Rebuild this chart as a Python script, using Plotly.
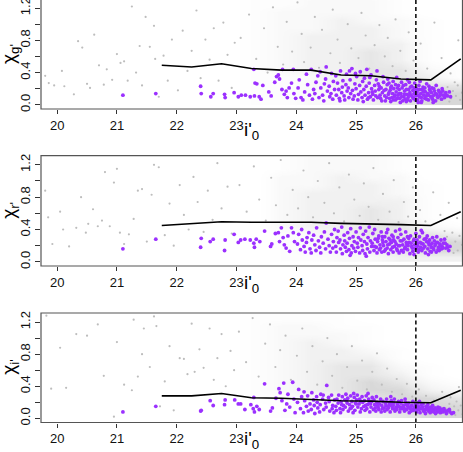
import plotly.graph_objects as go

# ---------------------------------------------------------------------------
# data
# ---------------------------------------------------------------------------

bin_x = [21.75, 22.25, 22.75, 23.25, 23.75, 24.25, 24.75, 25.25, 25.75, 26.25, 26.75]
line_g = [0.49, 0.47, 0.51, 0.45, 0.43, 0.43, 0.37, 0.36, 0.32, 0.31, 0.57]
line_r = [0.45, 0.475, 0.495, 0.49, 0.49, 0.49, 0.475, 0.47, 0.46, 0.45, 0.62]
line_i = [0.28, 0.28, 0.31, 0.257, 0.25, 0.235, 0.22, 0.215, 0.20, 0.195, 0.35]

x_ticks = [20, 21, 22, 23, 24, 25, 26]
cut_x = 26.0

# shading of the dense grey cloud (relative density, 0-5), rows = dens_y, cols = dens_x
dens_x = [22.75, 23.25, 23.75, 24.25, 24.75, 25.25, 25.75, 26.25, 26.75]
dens_y = [0.05, 0.15, 0.25, 0.35, 0.45, 0.55, 0.65, 0.75, 0.85, 0.95, 1.05, 1.15, 1.25]
dens_g = [
    [0, 1, 1, 2, 2, 3, 4, 5, 5],
    [0, 1, 1, 2, 2, 3, 4, 5, 5],
    [0, 1, 1, 2, 3, 3, 4, 4, 4],
    [0, 1, 1, 2, 3, 4, 4, 3, 1],
    [0, 1, 2, 3, 3, 4, 4, 2, 1],
    [0, 1, 2, 3, 3, 4, 3, 1, 0],
    [0, 1, 2, 3, 3, 4, 3, 1, 0],
    [0, 1, 2, 3, 3, 3, 3, 1, 0],
    [0, 1, 2, 3, 3, 3, 2, 1, 0],
    [0, 1, 2, 2, 3, 3, 2, 1, 0],
    [0, 1, 2, 2, 3, 2, 2, 1, 0],
    [0, 1, 2, 2, 2, 2, 1, 0, 0],
    [0, 1, 1, 2, 2, 2, 1, 0, 0],
]
dens_r = [
    [0, 0, 1, 1, 2, 2, 3, 3, 3],
    [0, 0, 1, 2, 2, 3, 4, 5, 5],
    [0, 0, 1, 2, 3, 3, 4, 5, 5],
    [0, 0, 1, 2, 3, 4, 4, 4, 3],
    [0, 0, 2, 3, 3, 4, 4, 2, 1],
    [0, 0, 2, 3, 3, 4, 3, 1, 0],
    [0, 0, 2, 3, 3, 4, 3, 1, 0],
    [0, 0, 2, 3, 3, 3, 3, 1, 0],
    [0, 0, 2, 3, 3, 3, 2, 1, 0],
    [0, 0, 2, 2, 3, 3, 2, 1, 0],
    [0, 0, 2, 2, 3, 2, 2, 0, 0],
    [0, 0, 1, 2, 2, 2, 1, 0, 0],
    [0, 0, 1, 2, 2, 2, 1, 0, 0],
]
dens_i = [
    [0, 0, 1, 1, 2, 3, 4, 5, 5],
    [0, 0, 1, 2, 2, 3, 5, 5, 5],
    [0, 1, 1, 2, 3, 4, 5, 5, 4],
    [0, 1, 2, 3, 4, 5, 5, 3, 2],
    [0, 1, 2, 3, 4, 5, 4, 2, 1],
    [0, 1, 2, 3, 4, 4, 3, 1, 0],
    [0, 1, 2, 3, 4, 4, 2, 1, 0],
    [0, 1, 2, 3, 3, 3, 1, 0, 0],
    [0, 1, 2, 3, 3, 2, 1, 0, 0],
    [0, 1, 2, 3, 2, 1, 0, 0, 0],
    [0, 1, 2, 2, 2, 1, 0, 0, 0],
    [0, 1, 2, 2, 1, 1, 0, 0, 0],
    [0, 1, 1, 1, 1, 0, 0, 0, 0],
]

gray_g = [
    (19.80, .36), (19.86, .27), (19.95, .24), (20.08, .42), (20.12, .23), (20.28, .13), (20.35, .79),
    (20.42, .71), (20.50, .26), (20.55, .21), (20.62, .87), (20.70, .49), (20.78, .25), (20.83, .44),
    (20.92, .31), (21.00, .63), (21.06, .52), (21.12, .54), (21.18, .30), (21.25, 1.22), (21.32, .40),
    (21.38, .73), (21.42, .24), (21.48, 1.09), (21.55, .72), (21.62, .98), (21.64, .57), (21.70, .10),
    (21.78, .61), (21.85, .30), (21.92, .81), (22.02, .18), (22.10, .92), (22.18, .42), (22.25, .67),
    (22.33, 1.17), (22.40, .33), (22.48, .81), (22.55, .56), (22.62, .95), (22.70, .30), (22.78, 1.02),
    (22.85, .62), (22.92, .21), (22.97, .77),
    (23.07, .83), (23.21, 1.12), (23.33, .57), (23.46, .95), (23.52, .40), (23.61, 1.21), (23.69, .72),
    (23.78, .50), (23.84, 1.03), (23.93, .66), (24.02, 1.27), (24.09, .88), (24.13, .53), (24.24, .71),
    (24.31, 1.09), (24.38, .46), (24.43, .93), (24.57, .64), (24.61, 1.18), (24.69, .81), (24.73, .52),
    (24.86, 1.00), (24.92, .70), (25.04, .58), (25.09, 1.14), (25.16, .86), (25.22, .45), (25.31, .74),
    (25.39, .99), (25.48, .60), (25.53, .83), (25.61, .48), (25.66, 1.06), (25.74, .67), (25.83, .42),
    (25.88, .90), (25.96, .55), (26.08, .76), (26.19, .45), (26.31, 1.02), (26.43, .58), (26.58, .39),
    (26.71, .80),
    (26.48, .14), (26.53, .22), (26.59, .08), (26.62, .17), (26.67, .11), (26.70, .24), (26.74, .06),
    (26.77, .15), (26.65, .28), (26.56, .04),
]

purple_g = [
    (21.10, .12), (21.65, .14), (22.40, .23), (22.41, .14), (22.57, .10), (22.61, .14), (22.80, .13),
    (22.81, .09), (22.96, .15), (23.03, .10), (23.08, .12), (23.15, .12), (23.23, .10), (23.29, .44),
    (23.31, .27), (23.30, .11), (23.34, .26), (23.44, .24), (23.38, .10), (23.41, .07), (23.54, .16),
    (23.58, .11), (23.64, .28), (23.67, .35), (23.70, .37), (23.72, .32), (23.77, .44), (23.76, .19),
    (23.80, .13), (23.83, .17), (23.85, .09), (23.88, .21), (23.92, .27), (23.95, .44), (23.96, .14),
    (23.99, .08),
    (24.03, .21), (24.08, .09), (24.05, .31), (24.14, .16), (24.11, .06), (24.19, .25), (24.22, .12),
    (24.25, .44), (24.29, .19), (24.27, .07), (24.33, .28), (24.31, .14), (24.38, .09), (24.36, .36),
    (24.41, .21), (24.44, .12), (24.47, .26), (24.46, .05), (24.50, .47), (24.52, .17), (24.49, .32),
    (24.56, .10), (24.55, .23), (24.59, .39), (24.58, .14), (24.62, .29), (24.61, .07), (24.64, .19),
    (24.17, .38), (24.40, .41),
    (24.67, .12), (24.69, .27), (24.66, .36), (24.72, .08), (24.71, .19), (24.74, .42), (24.76, .15),
    (24.78, .30), (24.77, .22), (24.81, .06), (24.80, .11), (24.83, .25), (24.85, .17), (24.84, .38),
    (24.88, .09), (24.87, .21), (24.90, .31), (24.91, .14), (24.93, .45), (24.95, .07), (24.94, .18),
    (24.98, .26), (24.97, .11), (25.00, .20), (25.01, .35), (25.04, .13), (25.03, .06), (25.06, .24),
    (25.08, .16), (25.07, .41), (25.10, .09), (25.11, .29), (25.13, .19), (25.15, .12), (25.14, .33),
    (25.17, .23), (25.19, .07), (25.18, .44), (25.21, .15), (25.22, .27), (25.24, .10), (25.26, .20),
    (25.25, .37), (25.28, .13), (25.29, .06), (25.31, .24), (25.32, .17), (25.34, .31), (25.36, .09),
    (25.35, .42), (25.38, .19), (25.37, .26), (25.40, .12), (24.99, .39), (24.73, .05), (25.12, .04),
    (25.23, .34), (24.89, .42),
    (25.42, .21), (25.41, .08), (25.44, .15), (25.46, .28), (25.45, .35), (25.48, .11), (25.50, .19),
    (25.49, .05), (25.52, .25), (25.54, .13), (25.53, .32), (25.56, .08), (25.57, .18), (25.59, .23),
    (25.58, .04), (25.61, .14), (25.62, .29), (25.64, .10), (25.63, .20), (25.66, .06), (25.67, .16),
    (25.68, .34), (25.70, .12), (25.71, .24), (25.73, .08), (25.72, .19), (25.75, .14), (25.76, .28),
    (25.78, .05), (25.77, .21), (25.80, .10), (25.81, .17), (25.83, .25), (25.82, .07), (25.85, .13),
    (25.86, .31), (25.88, .19), (25.87, .09), (25.90, .15), (25.91, .05), (25.93, .23), (25.92, .12),
    (25.95, .18), (25.96, .08), (25.98, .27), (25.97, .14), (26.00, .11), (26.01, .20), (26.03, .06),
    (26.02, .16), (26.05, .24), (26.06, .10), (26.08, .14), (26.07, .29), (26.10, .05), (26.11, .19),
    (26.13, .12), (26.12, .22), (26.15, .08), (26.16, .16), (26.18, .26), (26.17, .11), (26.20, .14),
    (26.21, .06), (26.23, .19), (26.22, .23), (26.25, .10), (26.26, .15), (26.28, .07), (26.27, .21),
    (26.30, .12), (26.31, .17), (26.33, .05), (26.34, .24), (26.35, .13), (26.37, .09), (26.38, .18),
    (26.40, .11), (26.41, .15), (26.43, .07), (26.44, .20), (26.46, .12), (26.48, .09), (26.50, .15),
    (26.53, .11), (26.56, .16), (25.60, .09), (25.74, .03), (25.89, .28), (26.09, .03), (25.55, .27),
    (25.69, .21), (25.84, .04), (25.99, .06), (26.14, .17), (26.29, .03),
    (25.21, .09), (25.27, .16), (25.33, .11), (25.39, .23), (25.43, .05), (25.47, .18), (25.51, .09),
    (25.55, .15), (25.58, .21), (25.62, .06), (25.65, .12), (25.69, .08), (25.72, .14), (25.76, .10),
    (25.79, .24), (25.81, .13), (25.84, .19), (25.88, .12), (25.91, .22), (25.94, .10), (25.97, .21),
    (26.00, .16), (26.03, .12), (26.06, .19), (26.09, .09), (26.12, .16), (26.15, .21), (26.18, .07),
    (26.21, .12), (26.24, .17), (26.27, .09), (26.30, .20), (26.33, .14), (26.36, .10), (26.39, .16),
    (26.42, .13), (26.45, .17), (26.51, .12), (26.58, .10), (25.86, .06), (26.04, .03), (25.66, .25),
]

gray_r = [
    (19.80, .88), (19.85, .55), (19.92, .22), (20.05, .62), (20.10, .40), (20.20, .19), (20.32, .42),
    (20.40, .80), (20.48, .36), (20.52, .47), (20.60, .65), (20.68, .44), (20.75, .51), (20.80, 1.11),
    (20.88, .44), (20.95, .98), (21.00, 1.15), (21.05, .36), (21.12, .22), (21.20, .34), (21.28, .53),
    (21.35, .88), (21.42, .90), (21.50, .25), (21.58, .83), (21.62, 1.20), (21.70, 1.17), (21.80, .33),
    (21.88, .72), (21.95, .20), (22.05, .95), (22.12, .58), (22.20, .40), (22.28, 1.05), (22.35, .74),
    (22.45, .37), (22.52, .88), (22.60, .52), (22.68, 1.22), (22.75, .66), (22.85, .93), (22.92, .35),
    (23.05, .95), (23.17, .62), (23.29, 1.18), (23.38, .77), (23.49, .51), (23.58, 1.04), (23.66, .70),
    (23.74, 1.26), (23.85, .58), (23.94, .89), (24.03, .66), (24.12, 1.13), (24.20, .80), (24.28, .55),
    (24.36, 1.00), (24.47, .73), (24.55, 1.22), (24.63, .60), (24.72, .92), (24.80, .50), (24.88, 1.08),
    (24.97, .77), (25.06, .57), (25.13, .97), (25.21, .68), (25.29, 1.16), (25.37, .52), (25.45, .84),
    (25.56, .62), (25.63, 1.01), (25.71, .49), (25.80, .74), (25.87, .56), (25.95, .92), (26.07, .64),
    (26.16, .50), (26.29, .86), (26.41, .58), (26.55, .73), (26.69, .54),
    (26.52, .31), (26.58, .19), (26.61, .36), (26.66, .25), (26.70, .14), (26.73, .32), (26.77, .21),
    (26.63, .11), (26.48, .38),
]

purple_r = [
    (21.10, .16), (21.65, .28), (22.41, .29), (22.40, .18), (22.56, .25), (22.61, .28), (22.80, .14),
    (22.81, .27), (22.96, .34), (23.03, .24), (23.07, .27), (23.14, .28), (23.23, .27), (23.29, .23),
    (23.30, .18), (23.33, .28), (23.39, .25), (23.47, .38), (23.57, .19), (23.59, .22), (23.65, .35),
    (23.70, .36), (23.72, .25), (23.75, .42), (23.78, .30), (23.80, .21), (23.83, .17), (23.86, .32),
    (23.89, .13), (23.92, .42), (23.95, .36), (23.97, .25),
    (24.02, .22), (24.04, .34), (24.07, .15), (24.10, .27), (24.09, .40), (24.13, .19), (24.15, .12),
    (24.18, .30), (24.17, .24), (24.21, .36), (24.23, .16), (24.26, .27), (24.25, .11), (24.29, .33),
    (24.31, .21), (24.34, .42), (24.33, .14), (24.37, .26), (24.39, .18), (24.42, .31), (24.41, .11),
    (24.45, .23), (24.47, .37), (24.50, .48), (24.49, .16), (24.53, .28), (24.55, .20), (24.57, .12),
    (24.59, .34), (24.62, .25), (24.61, .17), (24.64, .40),
    (24.66, .19), (24.68, .30), (24.67, .12), (24.71, .24), (24.70, .38), (24.74, .16), (24.73, .27),
    (24.76, .43), (24.78, .21), (24.77, .10), (24.80, .33), (24.82, .18), (24.81, .26), (24.84, .13),
    (24.86, .36), (24.85, .23), (24.89, .29), (24.88, .15), (24.91, .41), (24.93, .20), (24.92, .11),
    (24.95, .31), (24.97, .25), (24.96, .17), (25.00, .37), (24.99, .13), (25.02, .23), (25.04, .30),
    (25.03, .18), (25.06, .11), (25.08, .27), (25.07, .42), (25.10, .20), (25.12, .34), (25.11, .14),
    (25.14, .25), (25.16, .38), (25.15, .10), (25.18, .22), (25.20, .30), (25.19, .16), (25.22, .43),
    (25.24, .26), (25.23, .12), (25.26, .19), (25.28, .35), (25.27, .23), (25.30, .14), (25.32, .28),
    (25.31, .40), (25.34, .18), (25.36, .25), (25.35, .11), (25.38, .32), (25.40, .21), (25.39, .15),
    (25.42, .37), (25.44, .27), (25.43, .12), (24.90, .08), (25.17, .07),
    (25.46, .20), (25.48, .31), (25.47, .13), (25.50, .25), (25.52, .17), (25.51, .36), (25.54, .10),
    (25.56, .22), (25.55, .29), (25.58, .15), (25.60, .33), (25.59, .24), (25.62, .12), (25.64, .19),
    (25.63, .27), (25.66, .38), (25.68, .16), (25.67, .22), (25.70, .30), (25.72, .11), (25.71, .20),
    (25.74, .26), (25.76, .14), (25.75, .34), (25.78, .21), (25.80, .28), (25.79, .12), (25.82, .18),
    (25.84, .24), (25.83, .37), (25.86, .15), (25.88, .29), (25.87, .20), (25.90, .10), (25.92, .23),
    (25.91, .32), (25.94, .17), (25.96, .26), (25.95, .13), (25.98, .21), (26.00, .35), (25.99, .16),
    (26.02, .27), (26.04, .12), (26.03, .20), (26.06, .31), (26.08, .18), (26.07, .24), (26.10, .14),
    (26.12, .22), (26.11, .36), (26.14, .28), (26.16, .11), (26.15, .19), (26.18, .25), (26.20, .16),
    (26.19, .32), (26.22, .21), (26.24, .13), (26.23, .27), (26.26, .18), (26.28, .30), (26.27, .23),
    (26.30, .15), (26.32, .20), (26.31, .26), (26.34, .12), (26.36, .24), (26.35, .31), (26.38, .18),
    (26.40, .22), (26.39, .14), (26.42, .27), (26.44, .19), (26.43, .16), (26.46, .23), (26.48, .28),
    (26.50, .17), (26.52, .21), (26.55, .14), (26.57, .19), (25.73, .40), (25.97, .09), (26.21, .09),
    (25.53, .40), (26.09, .39),
    (25.31, .19), (25.37, .29), (25.41, .17), (25.45, .24), (25.49, .15), (25.53, .21), (25.57, .27),
    (25.61, .18), (25.65, .25), (25.69, .14), (25.73, .20), (25.77, .26), (25.81, .16), (25.85, .21),
    (25.89, .24), (25.93, .19), (25.97, .28), (26.01, .18), (26.05, .15), (26.09, .23), (26.13, .17),
    (26.17, .29), (26.21, .24), (26.25, .21), (26.29, .17), (26.33, .22), (26.37, .15), (26.41, .20),
    (26.45, .17), (26.49, .23), (26.53, .18), (25.62, .31), (25.86, .31), (26.02, .23), (25.44, .31),
    (26.26, .12),
]

gray_i = [
    (19.82, 1.28), (19.90, .37), (20.05, .88), (20.15, .38), (20.32, 1.05), (20.50, 1.03), (20.68, 1.17),
    (20.78, .53), (20.95, .02), (21.00, .95), (21.12, .42), (21.25, .35), (21.28, 1.23), (21.35, .52),
    (21.42, .80), (21.45, 1.12), (21.55, .64), (21.62, 1.27), (21.66, 1.15), (21.72, .15), (21.80, .46),
    (21.88, .90), (21.95, .10), (22.05, .75), (22.12, .74), (22.18, .55), (22.25, 1.18), (22.30, .58),
    (22.38, .86), (22.45, .63), (22.55, 1.12), (22.62, .48), (22.68, .75), (22.75, 1.05), (22.82, .40),
    (22.90, .84), (22.96, .60),
    (23.04, 1.08), (23.16, .70), (23.27, 1.25), (23.37, .52), (23.48, .93), (23.56, 1.17), (23.65, .64),
    (23.73, .85), (23.82, 1.03), (23.91, .48), (24.01, .78), (24.10, 1.12), (24.18, .58), (24.27, .90),
    (24.35, .42), (24.44, .71), (24.52, 1.00), (24.60, .53), (24.68, .80), (24.77, .38), (24.85, .64),
    (24.93, .90), (25.02, .47), (25.10, .72), (25.18, .36), (25.27, .58), (25.35, .81), (25.43, .42),
    (25.52, .62), (25.60, .33), (25.68, .49), (25.77, .30), (25.85, .43), (25.94, .27), (26.05, .36),
    (26.17, .28), (26.30, .22), (26.44, .33), (26.58, .26), (26.72, .39),
    (26.50, .12), (26.56, .18), (26.60, .07), (26.64, .15), (26.68, .21), (26.71, .10), (26.75, .16),
    (26.78, .05), (26.66, .04),
]

purple_i = [
    (21.10, .08), (21.65, .15), (22.41, .10), (22.40, .09), (22.56, .22), (22.61, .16), (22.80, .17),
    (22.81, .23), (22.97, .23), (23.03, .18), (23.07, .18), (23.14, .11), (23.24, .17), (23.28, .12),
    (23.29, .26), (23.30, .08), (23.34, .15), (23.38, .11), (23.47, .43), (23.57, .09), (23.60, .13),
    (23.66, .25), (23.71, .37), (23.73, .32), (23.76, .22), (23.79, .44), (23.81, .10), (23.84, .18),
    (23.86, .30), (23.89, .14), (23.94, .45), (23.96, .24), (23.98, .07),
    (24.02, .20), (24.04, .36), (24.07, .12), (24.09, .27), (24.12, .07), (24.14, .22), (24.13, .33),
    (24.17, .15), (24.20, .09), (24.19, .28), (24.23, .18), (24.26, .32), (24.25, .11), (24.29, .23),
    (24.31, .06), (24.30, .16), (24.34, .27), (24.36, .13), (24.35, .20), (24.39, .08), (24.41, .30),
    (24.40, .17), (24.44, .24), (24.46, .11), (24.45, .29), (24.49, .19), (24.51, .41), (24.50, .14),
    (24.54, .26), (24.56, .09), (24.55, .21), (24.59, .29), (24.61, .16), (24.60, .12), (24.64, .23),
    (24.63, .07),
    (24.66, .15), (24.68, .24), (24.67, .10), (24.71, .29), (24.70, .19), (24.73, .12), (24.75, .21),
    (24.74, .07), (24.77, .27), (24.79, .16), (24.78, .11), (24.81, .23), (24.83, .30), (24.82, .14),
    (24.85, .19), (24.87, .09), (24.86, .25), (24.89, .17), (24.91, .28), (24.90, .12), (24.93, .21),
    (24.95, .07), (24.94, .15), (24.97, .26), (24.99, .19), (24.98, .10), (25.01, .23), (25.03, .14),
    (25.02, .29), (25.05, .18), (25.07, .08), (25.06, .24), (25.09, .12), (25.11, .20), (25.10, .27),
    (25.13, .15), (25.15, .10), (25.14, .22), (25.17, .28), (25.19, .17), (25.18, .12), (25.21, .24),
    (25.23, .08), (25.22, .19), (25.25, .14), (25.27, .26), (25.26, .21), (25.29, .11), (25.31, .17),
    (25.30, .23), (25.33, .09), (25.35, .20), (25.34, .27), (25.37, .14), (25.39, .18), (25.38, .11),
    (25.41, .24), (25.43, .16), (25.42, .08), (25.45, .21), (25.20, .31), (24.96, .31),
    (25.47, .13), (25.49, .19), (25.48, .09), (25.51, .24), (25.53, .15), (25.52, .11), (25.55, .20),
    (25.57, .08), (25.56, .17), (25.59, .22), (25.61, .12), (25.60, .15), (25.63, .19), (25.65, .09),
    (25.64, .24), (25.67, .14), (25.69, .18), (25.68, .11), (25.71, .21), (25.73, .08), (25.72, .15),
    (25.75, .19), (25.77, .12), (25.76, .22), (25.79, .16), (25.81, .09), (25.80, .13), (25.83, .20),
    (25.85, .11), (25.84, .17), (25.87, .14), (25.89, .07), (25.88, .19), (25.91, .12), (25.93, .16),
    (25.92, .09), (25.95, .21), (25.97, .13), (25.96, .10), (25.99, .17), (26.01, .08), (26.00, .14),
    (26.03, .19), (26.05, .11), (26.04, .15), (26.07, .07), (26.09, .17), (26.08, .12), (26.11, .14),
    (26.13, .09), (26.12, .18), (26.15, .11), (26.17, .15), (26.16, .06), (26.19, .13), (26.21, .09),
    (26.20, .17), (26.23, .11), (26.25, .14), (26.24, .07), (26.27, .12), (26.29, .09), (26.28, .16),
    (26.31, .11), (26.33, .06), (26.32, .13), (26.35, .10), (26.37, .14), (26.36, .08), (26.39, .11),
    (26.41, .07), (26.40, .13), (26.43, .10), (26.45, .08), (26.47, .12), (26.49, .09), (26.51, .06),
    (26.54, .10), (26.57, .08), (26.60, .06), (26.63, .07), (25.58, .27), (25.82, .24), (26.06, .21),
    (24.76, .17), (24.84, .22), (24.92, .13), (25.00, .18), (25.08, .21), (25.16, .16), (25.24, .18),
    (25.32, .13), (25.36, .16), (25.44, .12), (25.50, .16), (25.54, .13), (25.58, .18), (25.62, .16),
    (25.66, .12), (25.70, .15), (25.74, .12), (25.78, .14), (25.82, .11), (25.86, .16), (25.90, .14),
    (25.94, .11), (25.98, .13), (26.02, .11), (26.06, .13), (26.10, .12), (26.14, .09), (26.18, .11),
    (26.22, .13), (26.26, .10), (26.30, .08), (26.34, .11), (26.38, .10), (26.44, .11), (26.50, .09),
    (26.56, .11),
]

# ---------------------------------------------------------------------------
# layout in pixels of the 463x452 page
# ---------------------------------------------------------------------------

W, H = 463, 452
FONT = "Liberation Sans, Arial, Helvetica, sans-serif"
GRAY = "#bdbdbd"
PURPLE = "#9B30FF"
X_DOM = [41 / W, 462.5 / W]
X_RANGE = [19.73, 26.78]
Y_SPAN = 1.365          # data units shown in a full panel of 110 px

panels = [
    dict(top=-1, bot=109, gray=gray_g, dens=dens_g, purple=purple_g, line=line_g, sub="g'", xt=131),
    dict(top=155.7, bot=266, gray=gray_r, dens=dens_r, purple=purple_r, line=line_r, sub="r'", xt=284),
    dict(top=313, bot=422.5, gray=gray_i, dens=dens_i, purple=purple_i, line=line_i, sub="i'", xt=440),
]

fig = go.Figure()
layout = dict(
    width=W, height=H,
    margin=dict(l=0, r=0, t=0, b=0, autoexpand=False),
    paper_bgcolor="white", plot_bgcolor="white",
    showlegend=False,
    font=dict(family=FONT, size=13, color="#111111"),
)
shapes, annotations = [], []

for i, p in enumerate(panels, start=1):
    sfx = "" if i == 1 else str(i)
    xa, ya = "x" + sfx, "y" + sfx
    top = max(p["top"], 0)
    dom = [1 - p["bot"] / H, 1 - top / H]
    span = p["bot"] - p["top"]
    y0 = -0.052
    y1 = y0 + (p["bot"] - top) / span * Y_SPAN

    fig.add_trace(go.Heatmap(
        x=dens_x, y=dens_y, z=p["dens"], xaxis=xa, yaxis=ya,
        zmin=0, zmax=5, zsmooth="best", showscale=False,
        colorscale=[[0, "rgba(255,255,255,0)"], [1, "#d8d8d8"]],
        hoverinfo="skip",
    ))
    gx, gy = zip(*p["gray"])
    fig.add_trace(go.Scatter(
        x=gx, y=gy, xaxis=xa, yaxis=ya, mode="markers",
        marker=dict(color=GRAY, size=2.2, line=dict(width=0)),
        hoverinfo="skip",
    ))
    px_, py_ = zip(*p["purple"])
    fig.add_trace(go.Scatter(
        x=px_, y=py_, xaxis=xa, yaxis=ya, mode="markers",
        marker=dict(color=PURPLE, size=3.8, line=dict(width=0)),
        hoverinfo="skip",
    ))
    fig.add_trace(go.Scatter(
        x=bin_x, y=p["line"], xaxis=xa, yaxis=ya, mode="lines",
        line=dict(color="black", width=1.6),
        hoverinfo="skip",
    ))

    layout["xaxis" + sfx] = dict(
        domain=X_DOM, range=X_RANGE, anchor=ya, automargin=False,
        tickvals=x_ticks, ticktext=[str(t) for t in x_ticks],
        ticks="outside", ticklen=4, tickwidth=1, tickcolor="#333333",
        showgrid=False, zeroline=False, showline=False,
        tickfont=dict(size=13, family=FONT, color="#111111"),
    )
    layout["yaxis" + sfx] = dict(
        domain=dom, range=[y0, y1], anchor=xa, automargin=False,
        tickmode="linear", tick0=0, dtick=0.4, tickformat=".1f", tickangle=-90,
        ticklabeloverflow="allow",
        ticks="outside", ticklen=5, tickwidth=1, tickcolor="#333333",
        minor=dict(tick0=0, dtick=0.2, ticks="outside", ticklen=5,
                   tickwidth=1, tickcolor="#333333", showgrid=False),
        showgrid=False, zeroline=False, showline=False,
        tickfont=dict(size=13, family=FONT, color="#111111"),
    )

    shapes.append(dict(
        type="line", xref=xa, yref=ya + " domain",
        x0=cut_x, x1=cut_x, y0=0, y1=1,
        line=dict(color="black", width=1.5, dash="4px,3px"),
    ))
    shapes.append(dict(
        type="rect", xref="paper", yref="paper",
        x0=X_DOM[0], x1=X_DOM[1],
        y0=1 - p["bot"] / H, y1=1 - p["top"] / H,
        line=dict(color="#555555", width=1.2),
    ))

    annotations.append(dict(
        text="χ<sub>" + p["sub"] + "</sub>", textangle=-90,
        xref="paper", yref="paper", x=10 / W,
        y=1 - (p["top"] + p["bot"]) / 2 / H,
        showarrow=False, xanchor="center", yanchor="middle",
        font=dict(size=19, family=FONT, color="black"),
    ))
    annotations.append(dict(
        text="i'<sub>0</sub>",
        xref="paper", yref="paper", x=251.5 / W, y=1 - p["xt"] / H,
        showarrow=False, xanchor="center", yanchor="middle",
        font=dict(size=19, family=FONT, color="black"),
    ))

layout["shapes"] = shapes
layout["annotations"] = annotations
fig.update_layout(**layout)

# the page body has a default 8px margin; drop it so the figure sits at (0, 0)
fig.write_html(
    "out.html",
    config={"displayModeBar": False},
    post_script="document.body.style.margin='0px';document.body.style.overflow='hidden';",
)
